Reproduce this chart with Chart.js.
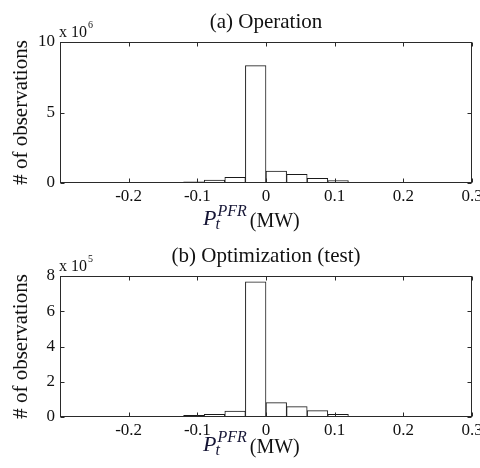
<!DOCTYPE html>
<html>
<head>
<meta charset="utf-8">
<script src="https://cdn.jsdelivr.net/npm/chart.js@4/dist/chart.umd.min.js"></script>
<style>
  html, body { margin: 0; padding: 0; background: #fff; }
  .panel { position: relative; width: 480px; height: 234px; }
</style>
</head>
<body>
<div class="panel"><canvas id="opChart"></canvas></div>
<div class="panel"><canvas id="testChart"></canvas></div>
<script>
// histogram bins, width 0.03 MW
const binCenters = [-0.285, -0.255, -0.225, -0.195, -0.165, -0.135, -0.105, -0.075, -0.045, -0.015,
                    0.015, 0.045, 0.075, 0.105, 0.135, 0.165, 0.195, 0.225, 0.255, 0.285];

// counts in units of 10^6 (operation) and 10^5 (optimization test)
const opCounts = [0.01, 0.01, 0.01, 0.01, 0.015, 0.02, 0.09, 0.21, 0.41, 8.32,
                  0.85, 0.62, 0.33, 0.17, 0.03, 0.02, 0.01, 0.01, 0.01, 0.01];
const testCounts = [0.01, 0.01, 0.01, 0.01, 0.02, 0.03, 0.09, 0.15, 0.33, 7.67,
                    0.82, 0.59, 0.36, 0.15, 0.03, 0.02, 0.01, 0.01, 0.01, 0.01];

const xTicks = [-0.2, -0.1, 0, 0.1, 0.2, 0.3];
const opYTicks = [0, 5, 10];
const testYTicks = [0, 2, 4, 6, 8];

const SERIF = '"Liberation Serif", "Times New Roman", serif';

// box, inward ticks, exponent, titles drawn MATLAB-style
const matlabAxes = {
  id: 'matlabAxes',
  afterDatasetsDraw(chart, args, opts) {
    const { ctx, chartArea: a, scales } = chart;
    const L = Math.round(a.left) + 0.5, R = Math.round(a.right) - 0.5;
    const T = Math.round(a.top) + 0.5, B = Math.round(a.bottom) - 0.5;
    ctx.save();
    ctx.strokeStyle = '#2a2a2a';
    ctx.lineWidth = 1;
    ctx.strokeRect(L, T, R - L, B - T);

    ctx.beginPath();
    xTicks.forEach(v => {
      const px = Math.round(scales.x.getPixelForValue(v)) + 0.5;
      ctx.moveTo(px, B); ctx.lineTo(px, B - 4);
      ctx.moveTo(px, T); ctx.lineTo(px, T + 4);
    });
    opts.yTicks.forEach(v => {
      const py = Math.round(scales.y.getPixelForValue(v)) + 0.5;
      ctx.moveTo(L, py); ctx.lineTo(L + 4, py);
      ctx.moveTo(R, py); ctx.lineTo(R - 4, py);
    });
    ctx.stroke();

    ctx.fillStyle = '#111';
    // exponent
    ctx.textAlign = 'left';
    ctx.textBaseline = 'alphabetic';
    ctx.font = '16px ' + SERIF;
    ctx.fillText('x 10', 59, 37);
    const w10 = ctx.measureText('x 10').width;
    ctx.font = '10px ' + SERIF;
    ctx.fillText(opts.exponent, 59 + w10 + 1, 28);

    // panel title
    ctx.font = '21px ' + SERIF;
    ctx.textAlign = 'center';
    ctx.fillText(opts.title, (a.left + a.right) / 2, 28);

    // y title
    ctx.save();
    ctx.translate(21, (a.top + a.bottom) / 2);
    ctx.rotate(-Math.PI / 2);
    ctx.textBaseline = 'middle';
    ctx.font = '21px ' + SERIF;
    ctx.fillText('# of observations', 0, 0);
    ctx.restore();

    // x title: P_t^{PFR}(MW)
    const base = opts.xTitleBase;
    let x = 203;
    ctx.textAlign = 'left';
    ctx.fillStyle = '#151535';
    ctx.font = 'italic 22px ' + SERIF;
    ctx.fillText('P', x, base);
    x += ctx.measureText('P').width + 1;
    ctx.font = 'italic 16px ' + SERIF;
    ctx.fillText('PFR', x, base - 9);
    ctx.fillText('t', x - 2, base + 4);
    x += ctx.measureText('PFR').width + 3;
    ctx.fillStyle = '#111';
    ctx.font = '20px ' + SERIF;
    ctx.fillText('(MW)', x, base + 2);
    ctx.restore();
  }
};

function makeHistogram(id, counts, yMax, yStep, yTicks, exponent, title, xTitleBase) {
  return new Chart(document.getElementById(id), {
    type: 'bar',
    data: {
      datasets: [{
        data: binCenters.map((c, i) => ({ x: c, y: counts[i] })),
        backgroundColor: '#ffffff',
        borderColor: '#1a1a1a',
        borderWidth: 1,
        borderSkipped: false,
        barPercentage: 1,
        categoryPercentage: 1
      }]
    },
    options: {
      responsive: true,
      maintainAspectRatio: false,
      animation: false,
      events: [],
      layout: { padding: { left: 0, right: 8, top: 42, bottom: 0 } },
      plugins: {
        legend: { display: false },
        tooltip: { enabled: false },
        matlabAxes: { yTicks, exponent, title, xTitleBase }
      },
      scales: {
        x: {
          type: 'linear',
          min: -0.3,
          max: 0.3,
          offset: false,
          afterFit: s => { s.height = 51; s.paddingLeft = 0; s.paddingRight = 0; },
          afterBuildTicks: s => { s.ticks = xTicks.map(v => ({ value: v })); },
          grid: { display: false, drawTicks: false },
          border: { display: false },
          ticks: {
            padding: 3,
            color: '#111',
            font: { family: SERIF, size: 17 },
            callback: v => String(+v.toFixed(1))
          }
        },
        y: {
          min: 0,
          max: yMax,
          afterFit: s => { s.width = 60; s.paddingTop = 0; s.paddingBottom = 0; },
          grid: { display: false, drawTicks: false },
          border: { display: false },
          ticks: {
            stepSize: yStep,
            padding: 5,
            color: '#111',
            font: { family: SERIF, size: 17 }
          }
        }
      }
    },
    plugins: [matlabAxes]
  });
}

makeHistogram('opChart', opCounts, 10, 5, opYTicks, '6', '(a) Operation', 225);
makeHistogram('testChart', testCounts, 8, 2, testYTicks, '5', '(b) Optimization (test)', 217);
</script>
</body>
</html>
